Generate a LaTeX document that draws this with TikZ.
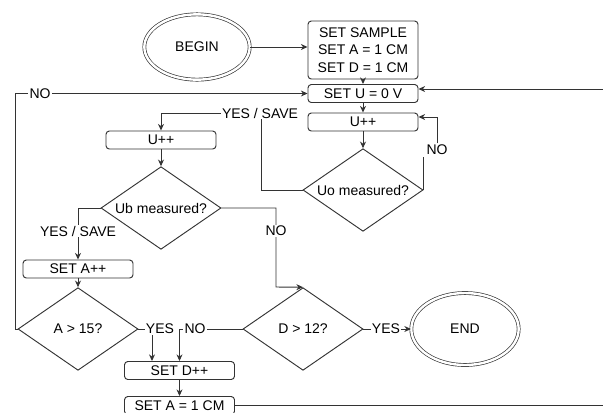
\documentclass[tikz,border=0pt]{standalone}
\usepackage{fontspec}
\setmainfont{Liberation Sans}
\usetikzlibrary{arrows.meta,positioning,shapes.geometric,calc}

\begin{document}
\begin{tikzpicture}[
  x=0.75pt, y=-0.75pt,
  font=\fontsize{10.5}{13.1}\selectfont,
  term/.style={ellipse, draw=black!80, double, double distance=1.8pt, line width=0.5pt,
               minimum width=79pt, minimum height=49pt, inner sep=0pt},
  act/.style={rectangle, draw=black!80, line width=0.7pt, rounded corners=2.5pt,
              minimum width=82.5pt, minimum height=13.5pt, inner sep=0pt},
  dec/.style={diamond, draw=black!80, line width=0.7pt, aspect=1.45,
              minimum width=90pt, minimum height=62pt, inner sep=0pt},
  lbl/.style={fill=white, inner sep=1pt},
  arr/.style={-{Stealth[length=5pt,width=4.5pt]}, draw=black!80, line width=0.7pt},
  ln/.style={draw=black!80, line width=0.7pt}
]
\useasboundingbox (0,0) rectangle (603,412);

% main column
\node[term] (begin) at (197,47) {BEGIN};
\node[act, minimum height=43.5pt, align=center] (sample) at (363,50)
  {SET SAMPLE\\SET A = 1 CM\\SET D = 1 CM};
\node[act] (setu) at (363,93.5) {SET U = 0 V};
\node[act] (uinc) at (363,122) {U++};
\node[dec] (uo) at (363,190) {Uo measured?};

% second column
\node[act] (uinc2) at (161,140) {U++};
\node[dec] (ub) at (161,208) {Ub measured?};
\node[act] (seta) at (78,269) {SET A++};
\node[dec] (a15) at (78,329) {A > 15?};
\node[act] (setd) at (179.5,370.5) {SET D++};
\node[act] (seta1) at (179.5,405.5) {SET A = 1 CM};
\node[dec] (d12) at (303,329) {D > 12?};
\node[term, minimum width=80.5pt, minimum height=54pt] (endn) at (465,329) {END};

\coordinate (ys) at (261,113);
\coordinate (ubno) at (276,287);
\coordinate (far) at (610,405.5);

\draw[arr] (begin.east) -- (begin.east -| sample.west);
\draw[arr] (sample) -- (setu);
\draw[arr] (setu) -- (uinc);
\draw[arr] (uinc) -- (uo);
\draw[arr] (uo.west) -| (ys) -| (uinc2.north);
\draw[arr] (uinc2) -- (ub);
\draw[arr] (ub.west) -| (seta.north);
\draw[arr] (ub.east) -| (ubno) -- (d12.north);
\draw[arr] (seta) -- (a15);
\draw[arr] (a15.west) -- ++(-2,0) |- (setu.west);
\draw[arr] (a15.east) -| ($(setd.north)+(-27.5,0)$);
\draw[arr] (d12.west) -| (setd.north);
\draw[arr] (setd) -- (seta1);
\draw[arr] (d12.east) -- (endn.west);
\draw[arr] (seta1.east) -- (far) |- ($(setu.east)+(0,-4.5)$);

% labels
\node[lbl] (nouo) at (437,150) {NO};
\draw[ln] (uo.east) -- (uo.east |- nouo.south);
\draw[arr] (nouo.north) |- ($(uinc.east)+(0,-5)$);
\node[lbl] at (260,113) {YES / SAVE};
\node[lbl] at (78,231) {YES / SAVE};
\node[lbl] at (276,231) {NO};
\node[lbl] at (40,94) {NO};
\node[lbl] at (160,329) {YES};
\node[lbl] at (195,329) {NO};
\node[lbl] at (386,329) {YES};

\end{tikzpicture}
\end{document}
